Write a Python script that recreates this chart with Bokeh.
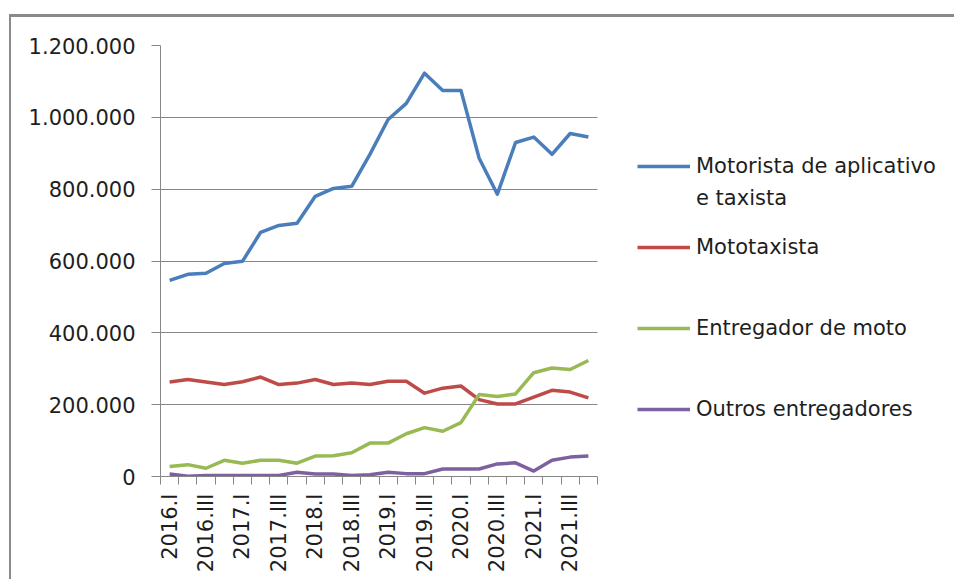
from bokeh.plotting import figure
from bokeh.models import FixedTicker, Legend, LegendItem, Range1d, BoxAnnotation
from bokeh.embed import file_html
from bokeh.resources import INLINE

quarters = ["2016.I", "2016.II", "2016.III", "2016.IV",
            "2017.I", "2017.II", "2017.III", "2017.IV",
            "2018.I", "2018.II", "2018.III", "2018.IV",
            "2019.I", "2019.II", "2019.III", "2019.IV",
            "2020.I", "2020.II", "2020.III", "2020.IV",
            "2021.I", "2021.II", "2021.III", "2021.IV"]

motorista = [546000, 563000, 566000, 593000, 599000, 680000, 699000, 705000,
             780000, 802000, 808000, 897000, 994000, 1039000, 1123000, 1075000,
             1075000, 886000, 786000, 930000, 945000, 897000, 955000, 945000]
mototaxista = [263000, 270000, 263000, 256000, 264000, 277000, 256000, 260000,
               270000, 256000, 260000, 256000, 265000, 265000, 232000, 246000,
               252000, 214000, 202000, 202000, 221000, 240000, 235000, 219000]
entregador_moto = [28000, 33000, 23000, 45000, 37000, 45000, 45000, 37000,
                   57000, 58000, 66000, 93000, 93000, 119000, 136000, 126000,
                   150000, 228000, 223000, 230000, 289000, 302000, 298000, 323000]
outros = [7000, 1000, 3000, 3000, 3000, 3000, 3000, 12000,
          7000, 7000, 3000, 5000, 12000, 8000, 8000, 21000,
          21000, 21000, 35000, 38000, 15000, 45000, 54000, 57000]

y_ticks = [0, 200000, 400000, 600000, 800000, 1000000, 1200000]
y_tick_labels = ["0", "200.000", "400.000", "600.000", "800.000", "1.000.000", "1.200.000"]

# legend text; the first entry wraps onto a second line in the reference
series_names = ["Motorista de aplicativo", "Mototaxista",
                "Entregador de moto", "Outros entregadores"]
first_name_continued = "e taxista"
series_colors = ["#4A7EBB", "#BE4B48", "#98B954", "#7D60A0"]

FONT = "DejaVu Sans"
FS = "21px"
TEXT = "#1e1e1e"
GREY = "#878787"

n = len(quarters)
x = list(range(n))

# canvas: 945 wide starting at page x=11; plot area 160..597, frame extends to canvas edge
CANVAS_L, PLOT_L, PLOT_R, CANVAS_R = 11, 160, 597, 956
x_end = -0.5 + n * (CANVAS_R - PLOT_L) / (PLOT_R - PLOT_L)

p = figure(width=945, height=565, output_backend="svg", toolbar_location=None,
           x_range=Range1d(-0.5, x_end),
           y_range=Range1d(y_ticks[0], y_ticks[-1]),
           min_border_left=PLOT_L - CANVAS_L, min_border_right=0,
           min_border_top=28, min_border_bottom=106)
p.styles = {"margin-left": "9px", "margin-top": "14px",
            "border-top": "3px solid #8a8a8a", "border-left": "2px solid #8a8a8a"}
p.outline_line_color = None
p.background_fill_color = "white"
p.border_fill_color = "white"

# x axis: ticks between categories, labels on every other category
p.xaxis.bounds = (-0.5, n - 0.5)
p.xaxis.ticker = FixedTicker(ticks=x[::2], minor_ticks=[i - 0.5 for i in range(n + 1)])
p.xaxis.major_label_overrides = {i: quarters[i] for i in x[::2]}
p.xaxis.major_label_orientation = 3.14159265 / 2
p.xaxis.major_tick_out = 0
p.xaxis.major_tick_in = 0
p.xaxis.minor_tick_out = 8
p.xaxis.minor_tick_in = 0
p.xaxis.minor_tick_line_color = GREY
p.xaxis.axis_line_color = GREY
p.xaxis.major_label_standoff = 9
p.xaxis.major_label_text_font = FONT
p.xaxis.major_label_text_font_size = FS
p.xaxis.major_label_text_color = TEXT
p.xgrid.grid_line_color = None

p.yaxis.ticker = FixedTicker(ticks=y_ticks, minor_ticks=[])
p.yaxis.major_label_overrides = {t: l for t, l in zip(y_ticks, y_tick_labels)}
p.yaxis.major_tick_out = 9
p.yaxis.major_tick_in = 0
p.yaxis.major_tick_line_color = GREY
p.yaxis.axis_line_color = GREY
p.yaxis.major_label_standoff = 16
p.yaxis.major_label_text_font = FONT
p.yaxis.major_label_text_font_size = FS
p.yaxis.major_label_text_color = TEXT
p.ygrid.grid_line_color = GREY
p.ygrid.grid_line_width = 1

renderers = []
for vals, col in zip([motorista, mototaxista, entregador_moto, outros], series_colors):
    r = p.line(x, vals, line_color=col, line_width=3.5, line_join="round")
    renderers.append(r)

# blank out the grid in the legend area (right of the plot area)
p.add_layout(BoxAnnotation(left=n - 0.5, fill_color="white", fill_alpha=1.0,
                           line_alpha=0))

GLYPH_W, STANDOFF = 53, 6
common = dict(glyph_height=20, label_height=26, padding=0, margin=0,
              border_line_color=None, background_fill_alpha=0,
              label_text_font=FONT, label_text_font_size=FS, label_text_color=TEXT)
LX = 637 - PLOT_L

lg_a = Legend(items=[LegendItem(label=series_names[0], renderers=[renderers[0]])],
              location=(LX, 297), glyph_width=GLYPH_W, label_standoff=STANDOFF,
              spacing=0, **common)
# continuation line of the first entry (no glyph)
lg_c = Legend(items=[LegendItem(label=first_name_continued, renderers=[renderers[0]])],
              location=(LX, 265), glyph_width=0, label_standoff=GLYPH_W + STANDOFF,
              spacing=0, **common)
common_b = dict(common, label_height=81)
lg_b = Legend(items=[LegendItem(label=nm, renderers=[r])
                     for nm, r in zip(series_names[1:], renderers[1:])],
              location=(LX, 27), glyph_width=GLYPH_W, label_standoff=STANDOFF,
              spacing=0, **common_b)
for lg in (lg_a, lg_c, lg_b):
    p.add_layout(lg, "center")

open("out.html", "w").write(file_html(p, INLINE))
